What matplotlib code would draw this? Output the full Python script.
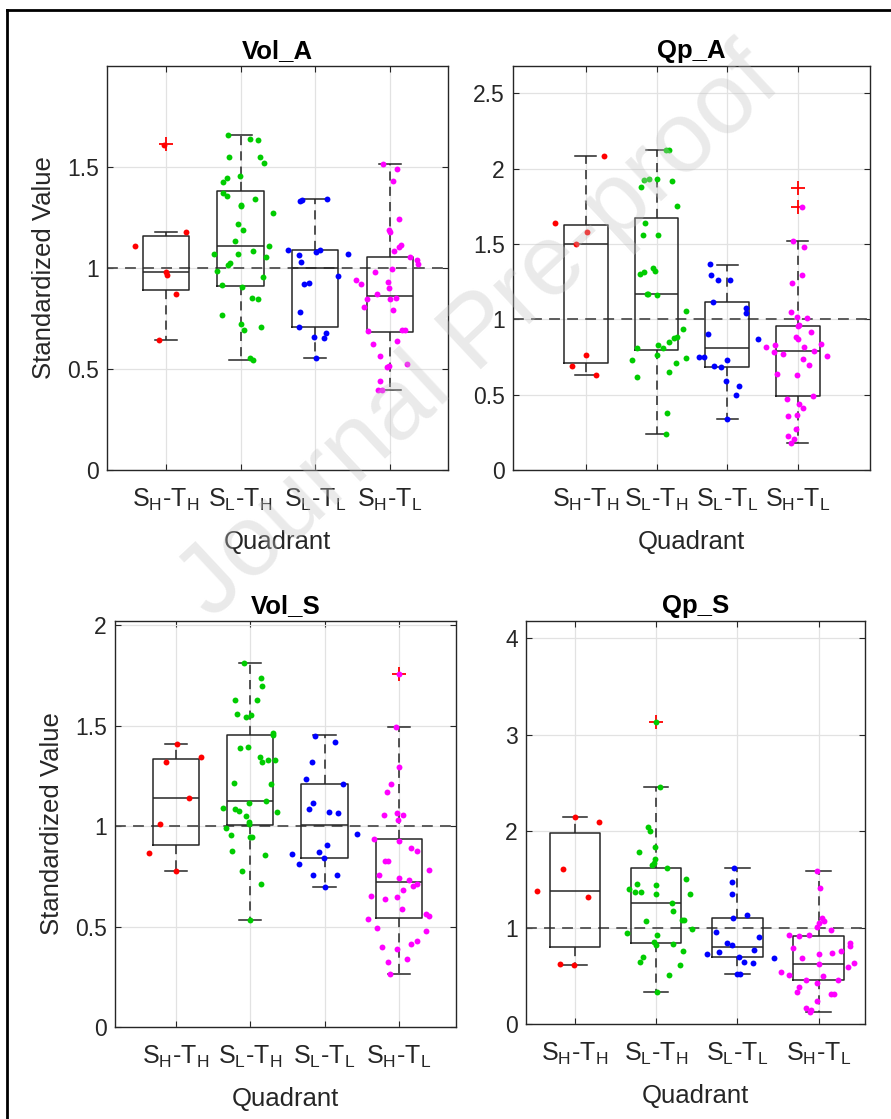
import matplotlib
matplotlib.use('Agg')
import matplotlib.pyplot as plt
from matplotlib.lines import Line2D
import numpy as np

plt.rcParams['font.family'] = ['Liberation Sans', 'DejaVu Sans']
plt.rcParams['mathtext.fontset'] = 'custom'
plt.rcParams['mathtext.rm'] = 'Liberation Sans'
plt.rcParams['mathtext.it'] = 'Liberation Sans:italic'
plt.rcParams['mathtext.bf'] = 'Liberation Sans:bold'

# categories
quadrants = [r'S$_{\mathregular{H}}$-T$_{\mathregular{H}}$',
             r'S$_{\mathregular{L}}$-T$_{\mathregular{H}}$',
             r'S$_{\mathregular{L}}$-T$_{\mathregular{L}}$',
             r'S$_{\mathregular{H}}$-T$_{\mathregular{L}}$']
group_colors = ['#ff0000', '#00cc00', '#0000ff', '#ff00ff']

# ---------------- Vol_A ----------------
vol_a_vals = [
    [1.61, 1.18, 1.11, 0.98, 0.965, 0.87, 0.646],
    [1.659, 1.638, 1.634, 1.549, 1.549, 1.519, 1.428, 1.448, 1.453, 1.371,
     1.357, 1.341, 1.313, 1.305, 1.272, 1.219, 1.189, 1.135, 1.110, 1.069,
     1.069, 1.082, 1.053, 1.025, 1.013, 0.984, 0.956, 0.914, 0.904, 0.853,
     0.847, 0.769, 0.723, 0.694, 0.710, 0.555, 0.544],
    [1.330, 1.335, 1.342, 1.087, 1.064, 1.031, 1.081, 1.091, 1.069, 0.959,
     0.919, 0.924, 0.784, 0.706, 0.657, 0.653, 0.678, 0.554],
    [1.516, 1.490, 1.429, 1.243, 1.190, 1.177, 1.116, 1.104, 1.086, 1.054,
     1.041, 1.021, 0.995, 0.980, 0.939, 0.922, 0.929, 0.899, 0.873, 0.847,
     0.847, 0.850, 0.807, 0.794, 0.690, 0.695, 0.695, 0.624, 0.640, 0.563,
     0.510, 0.517, 0.526, 0.439, 0.394, 0.394],
]
vol_a_jit = [
    [-0.02, 0.27, -0.41, 0.0, 0.01, 0.14, -0.09],
    [-0.17, 0.12, 0.23, -0.16, 0.26, 0.32, -0.24, -0.18, -0.01, -0.24,
     -0.18, 0.19, 0.0, 0.01, 0.43, -0.04, 0.03, -0.07, 0.38, -0.35,
     -0.04, 0.17, 0.34, -0.14, -0.17, -0.32, 0.30, -0.25, 0.02, 0.15,
     0.24, -0.25, 0.0, 0.05, 0.27, 0.13, 0.16],
    [-0.20, -0.17, 0.16, -0.37, -0.22, -0.19, 0.01, 0.06, 0.44, 0.30,
     -0.15, -0.08, -0.20, -0.22, -0.01, 0.12, 0.14, 0.01],
    [-0.09, 0.09, 0.04, 0.13, -0.01, 0.0, 0.15, 0.13, 0.05, 0.27,
     0.37, 0.38, 0.03, -0.20, -0.45, -0.38, -0.03, -0.01, -0.17, -0.31,
     0.0, 0.08, -0.34, 0.04, -0.29, 0.17, 0.20, -0.22, 0.09, -0.13,
     -0.04, -0.01, 0.23, -0.13, -0.16, -0.11],
]
vol_a_med = [0.979, 1.110, 0.998, 0.863]
vol_a_q1 = [0.893, 0.913, 0.708, 0.685]
vol_a_q3 = [1.160, 1.381, 1.087, 1.053]
vol_a_lo = [0.646, 0.547, 0.554, 0.394]
vol_a_hi = [1.178, 1.659, 1.342, 1.516]
vol_a_out = [[1.613], [], [], []]

# ---------------- Qp_A ----------------
qp_a_vals = [
    [2.081, 1.637, 1.577, 1.496, 0.760, 0.687, 0.632],
    [2.126, 2.126, 1.879, 1.921, 1.932,
     1.932, 1.914, 1.751, 1.641, 1.557,
     1.557, 1.300, 1.315, 1.337, 1.319,
     1.167, 1.167, 1.161, 1.053, 0.938,
     0.808, 0.764, 0.830, 0.808, 0.852,
     0.874, 0.885, 0.727, 0.617, 0.650,
     0.709, 0.740, 0.379, 0.240],
    [1.368, 1.293, 1.258, 1.260, 1.117, 1.073, 1.040, 0.901, 0.870, 0.747,
     0.749, 0.687, 0.681, 0.731, 0.593, 0.559, 0.500, 0.341],
    [1.744, 1.520, 1.476, 1.293, 1.238, 1.051, 1.013, 1.011, 0.963, 0.956,
     0.914, 0.885, 0.868, 0.837, 0.819, 0.826, 0.815, 0.791, 0.780, 0.771,
     0.753, 0.738, 0.698, 0.639, 0.630, 0.493, 0.474, 0.438, 0.412, 0.357,
     0.363, 0.275, 0.225, 0.203, 0.176],
]
qp_a_jit = [
    [0.26, -0.44, 0.01, -0.14, 0.0, -0.20, 0.14],
    [0.13, 0.18, -0.22, -0.18, -0.11,
     0.0, 0.22, 0.29, -0.16, -0.19,
     0.02, -0.23, -0.17, -0.05, -0.02,
     -0.14, -0.12, 0.0, 0.42, 0.37,
     -0.27, 0.01, 0.02, 0.09, 0.18,
     0.25, 0.29, -0.34, -0.27, 0.17,
     0.28, 0.42, 0.15, 0.13],
    [-0.25, -0.23, -0.13, 0.04, -0.20, 0.27, 0.26, -0.27, 0.43, -0.40,
     -0.33, -0.18, -0.09, 0.0, -0.01, 0.17, 0.13, 0.0],
    [0.06, -0.07, 0.08, 0.06, -0.08, -0.10, -0.01, 0.13, 0.02, 0.0,
     0.18, -0.03, 0.0, 0.33, -0.45, -0.32, 0.08, 0.23, -0.34, -0.21,
     0.41, 0.07, 0.16, -0.29, -0.01, 0.22, -0.16, 0.01, 0.07, -0.14,
     -0.01, -0.02, -0.14, -0.06, -0.10],
]
qp_a_med = [1.496, 1.167, 0.808, 0.791]
qp_a_q1 = [0.707, 0.793, 0.683, 0.493]
qp_a_q3 = [1.623, 1.672, 1.117, 0.958]
qp_a_lo = [0.632, 0.240, 0.341, 0.176]
qp_a_hi = [2.081, 2.126, 1.363, 1.520]
qp_a_out = [[], [], [], [1.870, 1.742]]

# ---------------- Vol_S ----------------
vol_s_vals = [
    [1.408, 1.317, 1.342, 1.141, 1.008, 0.868, 0.776],
    [1.810, 1.735, 1.698, 1.629, 1.629,
     1.556, 1.542, 1.551, 1.464, 1.453,
     1.387, 1.395, 1.342, 1.317, 1.330,
     1.330, 1.214, 1.211, 1.090, 1.085,
     1.074, 1.049, 1.116, 1.123, 1.072,
     1.020, 1.008, 0.992, 0.956, 0.946,
     0.943, 0.876, 0.856, 0.778, 0.709,
     0.534],
    [1.449, 1.417, 1.317, 1.235, 1.211, 1.113, 1.085, 1.069, 1.064, 0.962,
     0.908, 0.873, 0.861, 0.812, 0.840, 0.758, 0.758, 0.698],
    [1.758, 1.493, 1.294, 1.208, 1.167,
     1.057, 1.065, 1.056, 1.028, 0.933,
     0.925, 0.892, 0.876, 0.828, 0.828,
     0.779, 0.758, 0.742, 0.730, 0.704,
     0.709, 0.680, 0.652, 0.639, 0.647,
     0.587, 0.562, 0.554, 0.538, 0.493,
     0.480, 0.399, 0.386, 0.412, 0.426,
     0.325, 0.337, 0.263],
]
vol_s_jit = [
    [0.01, -0.13, 0.34, 0.17, -0.21, -0.36, 0.0],
    [-0.09, 0.15, 0.16, -0.20, 0.09,
     -0.18, -0.05, 0.01, 0.31, 0.31,
     -0.14, -0.03, 0.13, 0.16, 0.24,
     0.34, -0.22, 0.28, -0.37, -0.21,
     -0.15, -0.05, -0.02, 0.21, 0.36,
     -0.01, -0.01, -0.33, -0.26, 0.0,
     0.02, -0.25, 0.20, -0.11, 0.14,
     0.0],
    [-0.13, 0.14, -0.17, -0.25, 0.25, -0.15, -0.21, 0.06, 0.18, 0.44,
     0.03, -0.08, -0.44, -0.35, -0.01, -0.16, 0.17, 0.0],
    [0.0, -0.04, 0.0, -0.11, -0.16,
     -0.20, -0.02, 0.05, -0.01, -0.33,
     0.0, 0.17, 0.25, -0.19, -0.15,
     0.41, -0.27, 0.0, 0.14, 0.19,
     0.24, 0.05, -0.37, -0.18, -0.02,
     0.04, 0.36, 0.41, -0.41, -0.29,
     0.37, -0.23, -0.03, 0.17, 0.25,
     -0.14, 0.11, -0.12],
]
vol_s_med = [1.141, 1.124, 1.007, 0.722]
vol_s_q1 = [0.905, 1.003, 0.840, 0.541]
vol_s_q3 = [1.333, 1.453, 1.208, 0.933]
vol_s_lo = [0.776, 0.534, 0.698, 0.263]
vol_s_hi = [1.408, 1.810, 1.453, 1.493]
vol_s_out = [[], [], [], [1.758]]

# ---------------- Qp_S ----------------
qp_s_vals = [
    [2.144, 2.096, 1.612, 1.378, 1.316, 0.622, 0.615],
    [3.131, 2.460, 2.041, 2.007, 1.835,
     1.784, 1.711, 1.670, 1.646, 1.619,
     1.509, 1.447, 1.405, 1.371, 1.368,
     1.440, 1.344, 1.350, 1.258, 1.172,
     1.079, 1.076, 1.069, 0.990, 0.948,
     0.924, 0.852, 0.818, 0.828, 0.759,
     0.691, 0.646, 0.615, 0.509, 0.335],
    [1.615, 1.478, 1.344, 1.104, 1.133, 0.959, 0.904, 0.837, 0.819, 0.770,
     0.726, 0.744, 0.696, 0.641, 0.633, 0.689, 0.522, 0.522],
    [1.585, 1.411, 1.104, 1.070, 1.052, 1.011, 0.978, 0.922, 0.911, 0.919,
     0.837, 0.811, 0.793, 0.756, 0.733, 0.726, 0.689, 0.633, 0.596, 0.622,
     0.541, 0.511, 0.456, 0.493, 0.430, 0.456, 0.337, 0.381, 0.311, 0.311,
     0.237, 0.170, 0.126, 0.144],
]
qp_s_jit = [
    [0.0, 0.30, -0.14, -0.46, 0.16, -0.18, -0.01],
    [0.0, 0.05, -0.10, -0.07, -0.01,
     -0.21, -0.01, -0.03, -0.05, 0.13,
     0.37, -0.23, -0.33, -0.26, -0.19,
     0.0, 0.0, 0.42, 0.19, 0.21,
     0.32, 0.34, -0.13, 0.44, -0.36,
     0.01, -0.03, 0.0, 0.21, 0.33,
     -0.16, -0.20, 0.29, 0.16, 0.01],
    [-0.04, -0.07, -0.07, -0.05, 0.12, -0.26, 0.26, -0.13, -0.06, 0.20,
     -0.37, -0.22, 0.02, 0.08, 0.19, 0.45, 0.0, 0.03],
    [-0.02, 0.02, 0.04, 0.06, 0.01, -0.02, 0.15, -0.36, -0.24, -0.12,
     0.38, 0.38, -0.31, 0.27, 0.17, 0.01, -0.20, 0.44, 0.36, 0.01,
     -0.46, -0.36, -0.16, 0.05, -0.02, 0.24, -0.27, -0.24, 0.15, 0.19,
     -0.02, -0.16, -0.11, -0.09],
]
qp_s_med = [1.375, 1.251, 0.800, 0.626]
qp_s_q1 = [0.801, 0.845, 0.696, 0.456]
qp_s_q3 = [1.976, 1.619, 1.104, 0.911]
qp_s_lo = [0.615, 0.335, 0.522, 0.126]
qp_s_hi = [2.144, 2.460, 1.615, 1.585]
qp_s_out = [[], [3.131], [], []]

W, H = 891, 1119
fig = plt.figure(figsize=(W / 100, H / 100), dpi=100)


def px_rect(left, right, top, bottom):
    return [left / W, 1 - bottom / H, (right - left) / W, (bottom - top) / H]


def fmt(v):
    return ('%g' % v)


def draw_panel(rect, title, vals, jit, med, q1, q3, lo, hi, out,
               ylim, yticks, xlim, ylabel=True):
    ax = fig.add_axes(rect)
    pos = [1, 2, 3, 4]
    stats = [dict(med=med[i], q1=q1[i], q3=q3[i], whislo=lo[i],
                  whishi=hi[i], fliers=out[i]) for i in range(4)]
    ax.axhline(1, color='#505050', lw=1.3, ls=(0, (6, 4)), zorder=2)
    line_c = '#262626'
    ax.bxp(stats, positions=pos, widths=0.62, capwidths=0.3,
           boxprops=dict(color=line_c, lw=1.1),
           whiskerprops=dict(color=line_c, lw=1.1, ls=(0, (6, 4))),
           capprops=dict(color=line_c, lw=1.1),
           medianprops=dict(color=line_c, lw=1.1),
           flierprops=dict(marker='+', markeredgecolor='#ff0000',
                           markersize=10, markeredgewidth=1.3),
           manage_ticks=False, zorder=3)
    for i in range(4):
        ax.scatter(np.array(jit[i]) + pos[i], vals[i], s=18,
                   color=group_colors[i], linewidths=0, zorder=5)
    ax.set_xlim(*xlim)
    ax.set_ylim(*ylim)
    ax.set_yticks(yticks)
    ax.set_yticklabels([fmt(v) for v in yticks])
    ax.set_xticks(pos)
    ax.set_xticklabels(quadrants, fontsize=18)
    ax.grid(True, color='#e2e2e2', lw=0.9)
    ax.set_axisbelow(True)
    for s in ax.spines.values():
        s.set_color(line_c)
        s.set_linewidth(1.0)
    ax.tick_params(direction='in', top=True, right=True, length=4,
                   width=0.8, color=line_c, labelcolor=line_c)
    ax.tick_params(axis='y', pad=6, labelsize=16.5)
    ax.tick_params(axis='x', pad=12)
    ax.set_title(title, fontsize=18.5, fontweight='bold', pad=6)
    ax.set_xlabel('Quadrant', fontsize=18.5, color=line_c, labelpad=12)
    if ylabel:
        ax.set_ylabel('Standardized Value', fontsize=18.5, color=line_c,
                      labelpad=8)
    return ax


draw_panel(px_rect(107, 448, 66, 470), 'Vol_A', vol_a_vals, vol_a_jit,
           vol_a_med, vol_a_q1, vol_a_q3, vol_a_lo, vol_a_hi, vol_a_out,
           (0, 2.0), [0, 0.5, 1, 1.5], (0.21, 4.78))
draw_panel(px_rect(513, 870, 66, 470), 'Qp_A', qp_a_vals, qp_a_jit,
           qp_a_med, qp_a_q1, qp_a_q3, qp_a_lo, qp_a_hi, qp_a_out,
           (0, 2.68), [0, 0.5, 1, 1.5, 2, 2.5], (-0.03, 5.02), ylabel=False)
draw_panel(px_rect(115, 456, 621, 1027), 'Vol_S', vol_s_vals, vol_s_jit,
           vol_s_med, vol_s_q1, vol_s_q3, vol_s_lo, vol_s_hi, vol_s_out,
           (0, 2.02), [0, 0.5, 1, 1.5, 2], (0.18, 4.77))
draw_panel(px_rect(526, 865, 621, 1024), 'Qp_S', qp_s_vals, qp_s_jit,
           qp_s_med, qp_s_q1, qp_s_q3, qp_s_lo, qp_s_hi, qp_s_out,
           (0, 4.18), [0, 1, 2, 3, 4], (0.40, 4.57), ylabel=False)

# outer frame (top and left edges visible)
fig.add_artist(Line2D([7 / W, 1.0], [1 - 10 / H, 1 - 10 / H],
                      color='black', lw=2))
fig.add_artist(Line2D([7 / W, 7 / W], [0, 1 - 10 / H], color='black', lw=2))

# watermark
fig.text(480 / W, 1 - 335 / H, 'Journal Pre-proof', rotation=43,
         fontsize=73, color='#c4c4c4', alpha=0.35, ha='center',
         va='center', rotation_mode='anchor', zorder=10)

fig.savefig('out.png', dpi=100)
